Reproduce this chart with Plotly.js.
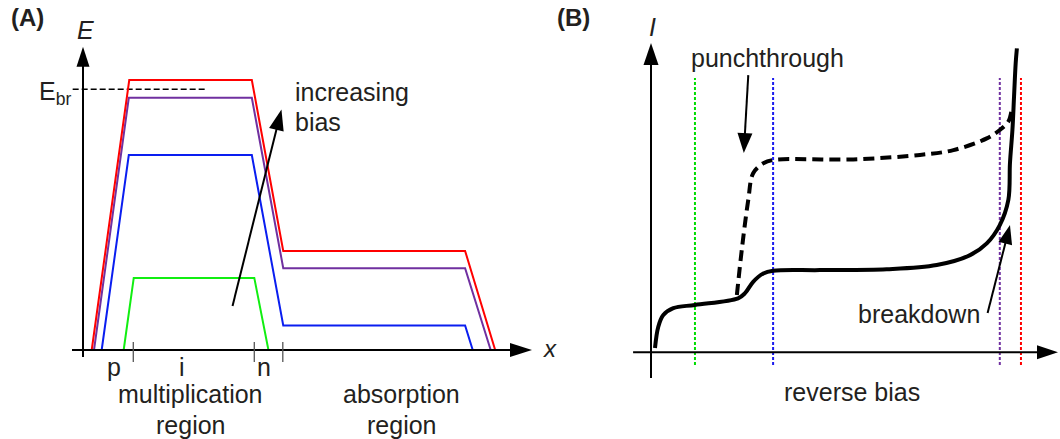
<!DOCTYPE html>
<html><head><meta charset="utf-8">
<script src="https://cdn.plot.ly/plotly-3.0.1.min.js"></script>
<style>html,body{margin:0;padding:0;background:#fff}#chart{width:1060px;height:439px}</style>
</head><body><div id="chart"></div>
<script>
// ---------- Panel A: electric-field profiles E(x) for increasing bias ----------
const redX    = [1.94, 10.3, 37.6, 44.6, 85.1, 91.8];
const redE    = [0, 100, 100, 36.7, 36.7, 0];
const purpleX = [2.45, 10.2, 37.6, 44.6, 85.1, 90.8];
const purpleE = [0, 93.4, 93.4, 30.3, 30.3, 0];
const blueX   = [4.16, 10.2, 37.6, 44.6, 85.1, 86.8];
const blueE   = [0, 72.2, 72.2, 9.1, 9.1, 0];
const greenX  = [9.06, 11.3, 38.15, 41.3];
const greenE  = [0, 26.7, 26.7, 0];
const ebrLevel = 96.6;
const ebrSpan  = [-2.3, 27.2];
const regionTicks = [11.2, 38.15, 44.5];
const layerLabels = ['p', 'i', 'n'];
const layerLabelX = [6.8, 22.1, 40.4];
const regionLabels = ['multiplication<br>region', 'absorption<br>region'];
const regionLabelX = [24.0, 71.0];

// ---------- Panel B: I–V curves ----------
const ivX = [0.98, 1.79, 3.02, 5.48, 10.8, 21.4, 23.1, 25.1, 27.6, 30.0, 41.5, 57.9, 70.2, 78.4, 82.5, 85.7, 87.8, 88.2, 88.8, 89.2, 89.6, 89.9];
const ivI = [1.43, 8.53, 12.4, 14.7, 15.8, 18.0, 19.7, 23.5, 26.3, 27.2, 27.4, 27.7, 29.1, 32.4, 36.3, 42.4, 50.8, 63.1, 74.1, 85.2, 96.3, 101.3];
const ptX = [21.1, 22.3, 23.9, 25.1, 27.6, 30.0, 49.7, 66.1, 74.3, 82.5, 85.7, 87.8, 88.6];
const ptI = [19.1, 34.1, 50.8, 59.7, 63.0, 64.1, 64.3, 65.8, 67.4, 71.3, 74.1, 76.9, 80.8];
const biasMarksX = [10.8, 30.0, 85.7, 90.9];
const biasColors = ['#00dd00', '#1a1aee', '#7030a0', '#ff0000'];
const markSpan = [-4.2, 91.4];

const colRed = '#ff0000', colPurple = '#7030a0', colBlue = '#0a1ef0', colGreen = '#11ee11';
const FONT = 'Liberation Sans, Arial, sans-serif';
const TXT = '#231f20';

// pixel scales (px per data unit) of each panel
const A = {sx: 4.49, sy: 2.7, ox: 83, oy: 350};
const B = {sx: 4.07, sy: 3.0, ox: 651, oy: 352.3};
const W = 1060, H = 439, split = 0.55;

// arrows: [x0, y0, x1(tip), y1(tip), headLen, headWidth, lineWidth]
const arrowsA = [
  [0, -2.6, 0, 112.3, 20, 13, 2],
  [-2.45, 0, 100, 0, 22, 14, 2],
  [33.3, 16.3, 44.2, 89.1, 21, 15, 2]
];
const arrowsB = [
  [0, -8.6, 0, 103.1, 22, 15, 2],
  [-4.4, 0, 100, 0, 21, 14, 2],
  [23.9, 92.4, 22.8, 66.4, 20, 15, 2],
  [82.7, 13.1, 88.2, 42.4, 19, 14, 2]
];

const shapes = [];
function addArrow(a, sc, xr, yr) {
  const [x0, y0, x1, y1, L, w, lw] = a;
  const dx = (x1 - x0) * sc.sx, dy = (y1 - y0) * sc.sy;
  const len = Math.hypot(dx, dy), ux = dx / len, uy = dy / len;
  const stop = L * 0.6;
  shapes.push({type: 'line', xref: xr, yref: yr, x0: x0, y0: y0,
    x1: x1 - ux * stop / sc.sx, y1: y1 - uy * stop / sc.sy,
    line: {color: '#000', width: lw}});
  const bx = -ux * L, by = -uy * L, nx = -uy * w / 2, ny = ux * w / 2;
  shapes.push({type: 'path', xref: xr, yref: yr, xsizemode: 'pixel', ysizemode: 'pixel',
    xanchor: x1, yanchor: y1,
    path: `M0,0 L${(bx + nx).toFixed(2)},${(by + ny).toFixed(2)} L${(bx - nx).toFixed(2)},${(by - ny).toFixed(2)} Z`,
    fillcolor: '#000', line: {color: '#000', width: 0}});
}
arrowsA.forEach(a => addArrow(a, A, 'x', 'y'));
arrowsB.forEach(a => addArrow(a, B, 'x2', 'y2'));
regionTicks.forEach(t => shapes.push({type: 'line', xref: 'x', yref: 'y', x0: t, x1: t, y0: 3.0, y1: -4.4,
  line: {color: '#555', width: 1.3}}));

const traces = [];
function line(x, y, color, width, xa, ya, dash, shape) {
  traces.push({type: 'scatter', mode: 'lines', x: x, y: y, xaxis: xa, yaxis: ya,
    line: {color: color, width: width, dash: dash || 'solid', shape: shape || 'linear', smoothing: 1},
    hoverinfo: 'skip'});
}
line(ebrSpan, [ebrLevel, ebrLevel], '#000', 1.6, 'x', 'y', '6px,3px');
line(greenX, greenE, colGreen, 2, 'x', 'y');
line(blueX, blueE, colBlue, 2, 'x', 'y');
line(purpleX, purpleE, colPurple, 2, 'x', 'y');
line(redX, redE, colRed, 2, 'x', 'y');
biasMarksX.forEach((v, i) => line([v, v], markSpan, biasColors[i], 2, 'x2', 'y2', '3px,2px'));
line(ptX, ptI, '#000', 4, 'x2', 'y2', '11px,6px', 'spline');
line(ivX, ivI, '#000', 4, 'x2', 'y2', 'solid', 'spline');

const ann = [];
function txt(t, x, y, xr, yr, opts, fontExtra) {
  ann.push(Object.assign({text: t, x: x, y: y, xref: xr, yref: yr, showarrow: false,
    xanchor: 'center', yanchor: 'middle',
    font: Object.assign({family: FONT, size: 25, color: TXT}, fontExtra || {})}, opts || {}));
}
txt('(A)', 27 / W, 1 - 18 / H, 'paper', 'paper', {}, {size: 24, weight: 'bold'});
txt('(B)', 573 / W, 1 - 18 / H, 'paper', 'paper', {}, {size: 24, weight: 'bold'});
txt('E', 0.45, 118.5, 'x', 'y', {}, {style: 'italic'});
txt('E<sub>br</sub>', -2.2, 95.2, 'x', 'y', {xanchor: 'right'});
txt('increasing', 46.8, 95.6, 'x', 'y', {xanchor: 'left'});
txt('bias', 46.8, 84.4, 'x', 'y', {xanchor: 'left'});
txt('x', 101.9, 0.4, 'x', 'y', {xanchor: 'left'}, {style: 'italic', size: 24});
layerLabels.forEach((l, i) => txt(l, layerLabelX[i], -6.4, 'x', 'y'));
regionLabels.forEach((l, i) => {
  const parts = l.split('<br>');
  txt(parts[0], regionLabelX[i], -16.3, 'x', 'y');
  txt(parts[1], regionLabelX[i], -27.6, 'x', 'y');
});
txt('I', 0.25, 108.4, 'x2', 'y2', {}, {style: 'italic'});
txt('punchthrough', 28.7, 98.1, 'x2', 'y2');
txt('breakdown', 65.8, 12.8, 'x2', 'y2');
txt('reverse bias', 49.4, -13.2, 'x2', 'y2');

const ax = {visible: false, fixedrange: true, showgrid: false, zeroline: false};
const layout = {
  width: W, height: H, margin: {l: 0, r: 0, t: 0, b: 0},
  paper_bgcolor: '#fff', plot_bgcolor: '#fff', showlegend: false, hovermode: false,
  xaxis: Object.assign({}, ax, {domain: [0, split], range: [-A.ox / A.sx, (split * W - A.ox) / A.sx]}),
  yaxis: Object.assign({}, ax, {domain: [0, 1], range: [(A.oy - H) / A.sy, A.oy / A.sy]}),
  xaxis2: Object.assign({}, ax, {domain: [split, 1], anchor: 'y2', range: [(split * W - B.ox) / B.sx, (W - B.ox) / B.sx]}),
  yaxis2: Object.assign({}, ax, {domain: [0, 1], anchor: 'x2', range: [(B.oy - H) / B.sy, B.oy / B.sy]}),
  shapes: shapes, annotations: ann
};
Plotly.newPlot('chart', traces, layout, {staticPlot: true, displayModeBar: false});
</script></body></html>
